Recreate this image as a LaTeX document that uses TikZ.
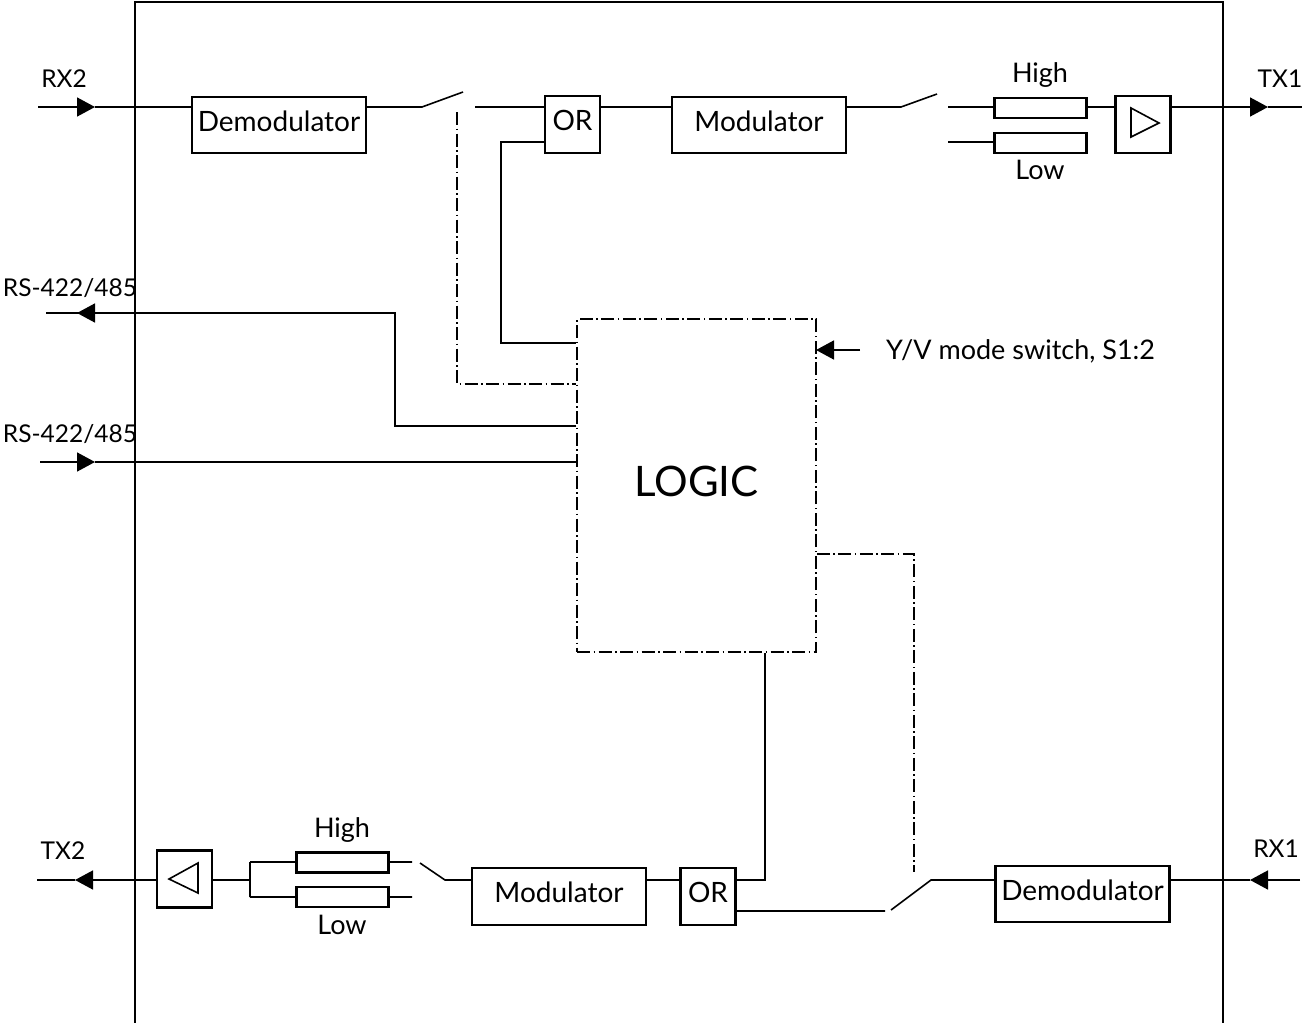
\documentclass[tikz,border=0pt]{standalone}
\usepackage{fontspec}
\setmainfont{Lato}
\usetikzlibrary{arrows.meta}
\tikzset{
  box/.style={draw, line width=2.3pt, inner sep=0pt, text depth=8pt},
  filt/.style={draw, line width=2.3pt, minimum width=92pt, minimum height=20pt, inner sep=0pt},
  amp/.style={draw, line width=2.3pt, minimum width=55pt, minimum height=57pt, inner sep=0pt},
  wire/.style={line width=1.6pt},
  ctrl/.style={line width=1.5pt, dash pattern=on 13pt off 3.5pt on 1.5pt off 3.5pt},
  pil/.style={wire, -{Triangle[length=18pt, width=19pt]}},
  lab/.style={font=\fontsize{27}{29}\selectfont, inner sep=0pt},
  port/.style={font=\fontsize{24.5}{26}\selectfont, inner sep=0pt},
  every node/.append style={font=\fontsize{28}{30}\selectfont}
}
\begin{document}
\begin{tikzpicture}[x=1pt, y=-1pt]
  \useasboundingbox (0, 0) rectangle (1302, 1023);

  % outer frame
  \coordinate (fa) at (135, 1023);
  \coordinate (fb) at (135, 2);
  \coordinate (fc) at (1223, 2);
  \coordinate (fd) at (1223, 1023);
  \draw[line width=2.3pt] (fa) -- (fb) -- (fc) -- (fd);

  % top row
  \node[box, minimum width=174pt, minimum height=56pt] (dem2) at (279, 125) {Demodulator};
  \node[box, minimum width=55pt, minimum height=57pt] (or2) at (572.5, 124.5) {OR};
  \node[box, minimum width=174pt, minimum height=56pt] (mod2) at (759, 125) {Modulator};
  \node[filt] (high2) at (1040.5, 108) {};
  \node[filt] (low2) at (1040.5, 143) {};
  \node[amp] (amp2) at (1143, 124.5) {};
  \node[lab] (highl2) at (1040, 75) {High};
  \node[lab] (lowl2) at (1040, 170) {Low};

  % bottom row
  \node[amp] (amp1) at (184.5, 879) {};
  \node[filt] (high1) at (342.5, 862.5) {};
  \node[filt] (low1) at (342.5, 897) {};
  \node[box, minimum width=174pt, minimum height=57pt] (mod1) at (559, 896.5) {Modulator};
  \node[box, minimum width=55pt, minimum height=57pt] (or1) at (708, 896.5) {OR};
  \node[box, minimum width=174pt, minimum height=56pt] (dem1) at (1082.5, 894) {Demodulator};
  \node[lab] (highl1) at (342, 830) {High};
  \node[lab] (lowl1) at (342, 925) {Low};

  % logic block
  \node[ctrl, draw, minimum width=239pt, minimum height=333pt, inner sep=0pt] (logic) at (696.5, 485.5) {};
  \node[font=\fontsize{42}{44}\selectfont, inner sep=0pt] (logicl) at (696.5, 481) {LOGIC};
  \node[lab, anchor=west] (mode) at (886, 351) {Y/V mode switch, S1:2};

  % port labels
  \node[port] (rx2) at (64, 79) {RX2};
  \node[port] (tx1) at (1280, 79) {TX1};
  \node[port] (tx2) at (63, 851) {TX2};
  \node[port] (rx1) at (1276, 849) {RX1};
  \node[port] (rsa) at (70, 288) {RS-422/485};
  \node[port] (rsb) at (70, 434) {RS-422/485};

  % free ends
  \coordinate (rx2a) at (38, 107);
  \coordinate (rx2t) at (95, 107);
  \coordinate (sw2a) at (422, 107);
  \coordinate (sw2b) at (463, 92);
  \coordinate (sw2c) at (475, 107);
  \coordinate (sw3a) at (901, 107);
  \coordinate (sw3b) at (937, 94);
  \coordinate (sw3c) at (948, 107);
  \coordinate (sw3d) at (948, 142);
  \coordinate (tx1t) at (1268, 107);
  \coordinate (tx1a) at (1302, 107);
  \coordinate (or2b) at (501, 142);
  \coordinate (lga) at (501, 343);
  \coordinate (cta) at (457, 112);
  \coordinate (ctb) at (457, 384);
  \coordinate (rsat) at (77, 313);
  \coordinate (rsaa) at (46, 313);
  \coordinate (rsac) at (395, 313);
  \coordinate (rsad) at (395, 426);
  \coordinate (rsba) at (40, 462);
  \coordinate (rsbt) at (95, 462);
  \coordinate (modea) at (860, 350);
  \coordinate (modet) at (816, 350);
  \coordinate (ctc) at (914, 554);
  \coordinate (ctd) at (914, 872);
  \coordinate (lgb) at (765, 880);
  \coordinate (tx2a) at (37, 880);
  \coordinate (tx2t) at (75, 880);
  \coordinate (br) at (250, 880);
  \coordinate (bra) at (250, 862);
  \coordinate (brb) at (250, 897);
  \coordinate (sw1a) at (412, 862);
  \coordinate (sw1b) at (412, 897);
  \coordinate (sw1c) at (420, 863);
  \coordinate (sw1d) at (445, 880);
  \coordinate (sw4a) at (885, 911);
  \coordinate (sw4b) at (891, 910);
  \coordinate (sw4c) at (931, 880);
  \coordinate (rx1t) at (1250, 880);
  \coordinate (rx1a) at (1300, 880);

  % triangles in the amplifiers
  \coordinate (tra) at (1131, 108);
  \coordinate (trb) at (1131, 137);
  \coordinate (trc) at (1159, 123);
  \coordinate (trd) at (198, 863);
  \coordinate (tre) at (198, 893);
  \coordinate (trf) at (169, 879);
  \draw[wire] (tra) -- (trb) -- (trc) -- cycle;
  \draw[wire] (trd) -- (tre) -- (trf) -- cycle;

  % top row wires
  \draw[pil] (rx2a) -- (rx2t);
  \draw[wire] (rx2t) -- (rx2t -| dem2.west)
              (sw2a -| dem2.east) -- (sw2a) -- (sw2b)
              (sw2c) -- (sw2c -| or2.west)
              (sw2c -| or2.east) -- (sw2c -| mod2.west)
              (sw3a -| mod2.east) -- (sw3a) -- (sw3b)
              (sw3c) -- (sw3c -| high2.west)
              (sw3d) -- (sw3d -| low2.west)
              (sw3c -| high2.east) -- (sw3c -| amp2.west)
              (tx1a) -- (tx1t);
  \draw[pil] (tx1t -| amp2.east) -- (tx1t);

  % logic connections
  \draw[wire] (or2b -| or2.west) -- (or2b) -- (lga) -- (lga -| logic.west);
  \draw[ctrl] (cta) -- (ctb) -- (ctb -| logic.west);
  \draw[wire] (rsad -| logic.west) -- (rsad) -- (rsac) -- (rsat);
  \draw[pil] (rsac) -- (rsat);
  \draw[wire] (rsat) -- (rsaa);
  \draw[pil] (rsba) -- (rsbt);
  \draw[wire] (rsbt) -- (rsbt -| logic.west);
  \draw[pil] (modea) -- (modet);
  \draw[ctrl] (ctc -| logic.east) -- (ctc) -- (ctd);
  \draw[wire] (lgb |- logic.south) -- (lgb) -- (lgb -| or1.east);

  % bottom row wires
  \draw[pil] (amp1.west |- tx2t) -- (tx2t);
  \draw[wire] (tx2t) -- (tx2a)
              (br -| amp1.east) -- (br)
              (bra) -- (brb)
              (bra) -- (bra -| high1.west)
              (brb) -- (brb -| low1.west)
              (sw1a -| high1.east) -- (sw1a)
              (sw1b -| low1.east) -- (sw1b)
              (sw1c) -- (sw1d) -- (sw1d -| mod1.west)
              (sw1d -| mod1.east) -- (sw1d -| or1.west)
              (sw4a -| or1.east) -- (sw4a)
              (sw4b) -- (sw4c) -- (sw4c -| dem1.west);
  \draw[pil] (rx1a) -- (rx1t);
  \draw[wire] (rx1t) -- (rx1t -| dem1.east);
\end{tikzpicture}
\end{document}
